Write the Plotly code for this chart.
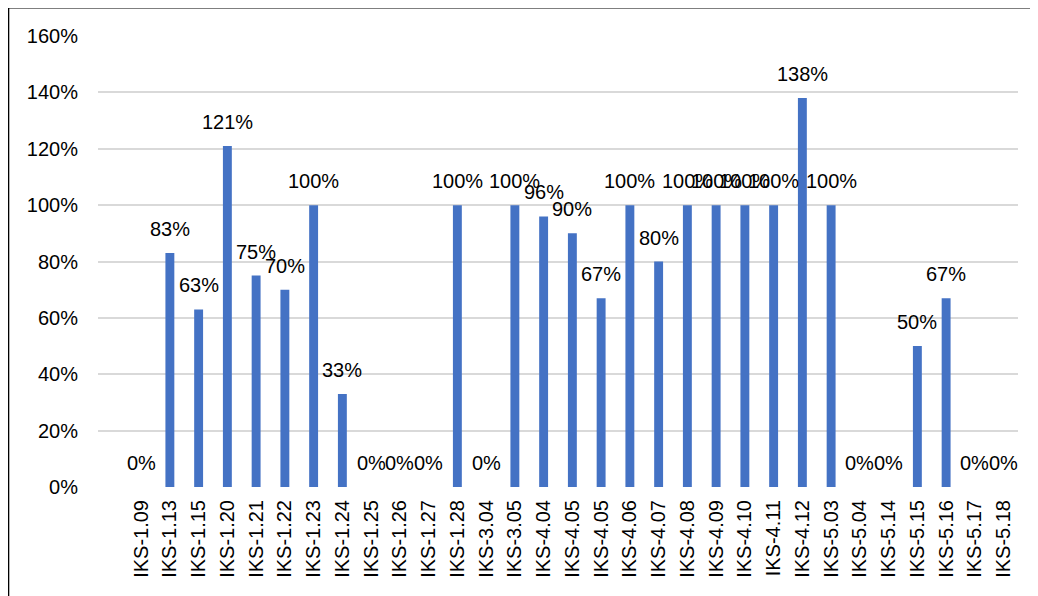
import plotly.graph_objects as go

categories = ["IKS-1.09", "IKS-1.13", "IKS-1.15", "IKS-1.20", "IKS-1.21", "IKS-1.22",
              "IKS-1.23", "IKS-1.24", "IKS-1.25", "IKS-1.26", "IKS-1.27", "IKS-1.28",
              "IKS-3.04", "IKS-3.05", "IKS-4.04", "IKS-4.05", "IKS-4.05", "IKS-4.06",
              "IKS-4.07", "IKS-4.08", "IKS-4.09", "IKS-4.10", "IKS-4.11", "IKS-4.12",
              "IKS-5.03", "IKS-5.04", "IKS-5.14", "IKS-5.15", "IKS-5.16", "IKS-5.17",
              "IKS-5.18"]
values = [0, 83, 63, 121, 75, 70, 100, 33, 0, 0, 0, 100, 0, 100, 96, 90, 67, 100,
          80, 100, 100, 100, 100, 138, 100, 0, 0, 50, 67, 0, 0]
y_ticks = [0, 20, 40, 60, 80, 100, 120, 140, 160]
y_tick_labels = ["0%", "20%", "40%", "60%", "80%", "100%", "120%", "140%", "160%"]

positions = list(range(len(categories)))
FONT = "Liberation Sans, Arial, sans-serif"
FS = 20

fig = go.Figure()
fig.add_trace(go.Bar(x=positions, y=values, width=0.31,
                     marker=dict(color="#4472C4", line=dict(width=0)),
                     hoverinfo="skip"))

for p, v in zip(positions, values):
    fig.add_annotation(x=p, y=v, xref="x", yref="y", text=f"{v}%",
                       showarrow=False, yanchor="middle", yshift=24,
                       font=dict(family=FONT, size=FS, color="#000000"))

# chart frame (left and top edges visible in the reference)
fig.add_shape(type="line", xref="paper", yref="paper",
              x0=-0.0975, x1=-0.0975, y0=-0.4, y1=1.063,
              line=dict(color="#000000", width=2))
fig.add_shape(type="line", xref="paper", yref="paper",
              x0=-0.0975, x1=1.1, y0=1.063, y1=1.063,
              line=dict(color="#000000", width=2))

fig.update_layout(
    width=1030, height=588,
    margin=dict(l=90, r=20, t=28, b=109),
    paper_bgcolor="white", plot_bgcolor="white",
    showlegend=False,
    font=dict(family=FONT, size=FS, color="#000000"),
    xaxis=dict(range=[-1.5, 30.5], tickmode="array", tickvals=positions,
               ticktext=categories, tickangle=-90, showgrid=False,
               zeroline=False, showline=False, ticks="",
               ticklabelstandoff=8,
               tickfont=dict(family=FONT, size=FS, color="#000000")),
    yaxis=dict(range=[0, 160], tickmode="array", tickvals=y_ticks,
               ticktext=y_tick_labels,
               showgrid=True, gridcolor="#d9d9d9", gridwidth=1.5,
               zeroline=False, showline=False, ticks="",
               ticklabelstandoff=19,
               tickfont=dict(family=FONT, size=FS, color="#000000")),
)

fig.write_html("out.html")
